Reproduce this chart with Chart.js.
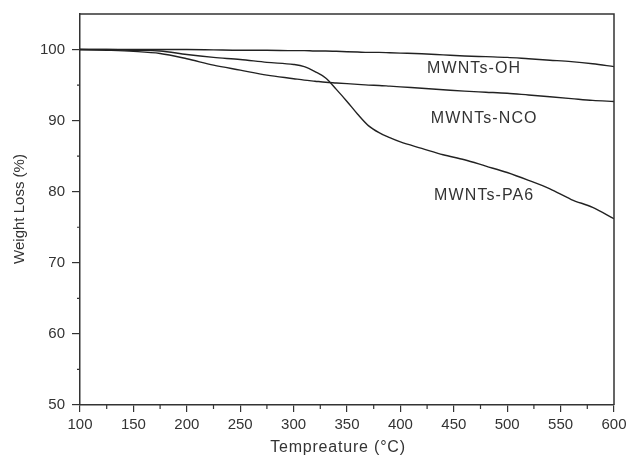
<!DOCTYPE html>
<html>
<head>
<meta charset="utf-8">
<script src="https://cdn.jsdelivr.net/npm/chart.js@4"></script>
<style>
  html, body { margin: 0; padding: 0; background: #fff; }
  #box { width: 627px; height: 459px; }
</style>
</head>
<body>
<div id="box"><canvas id="grafico" width="627" height="459"></canvas></div>
<script>
// temperaturas (°C)
const temps = [100, 125, 150, 175, 200, 225, 250, 275, 300, 310, 320, 330, 340, 350, 360, 370, 380, 390, 400, 420, 440, 460, 480, 500, 520, 540, 560, 580, 600];
// perda de massa (%)
const ohVals  = [100, 100, 100, 100, 100, 99.95, 99.9, 99.9, 99.85, 99.85, 99.8, 99.8, 99.75, 99.7, 99.65, 99.6, 99.6, 99.55, 99.5, 99.4, 99.25, 99.1, 99.0, 98.9, 98.7, 98.5, 98.3, 98.0, 97.6];
const ncoVals = [100, 99.9, 99.75, 99.45, 98.7, 97.8, 97.1, 96.4, 95.9, 95.7, 95.55, 95.4, 95.3, 95.2, 95.1, 95.0, 94.95, 94.85, 94.75, 94.55, 94.35, 94.15, 94.0, 93.85, 93.6, 93.35, 93.1, 92.85, 92.7];
const pa6Vals = [100, 100, 99.9, 99.8, 99.3, 98.9, 98.6, 98.2, 97.9, 97.6, 96.9, 96.0, 94.4, 92.7, 90.9, 89.3, 88.3, 87.6, 87.0, 86.1, 85.2, 84.5, 83.6, 82.7, 81.6, 80.4, 78.9, 77.8, 76.2];

const seriesNames = ['MWNTs-OH', 'MWNTs-NCO', 'MWNTs-PA6'];
// posição dos rótulos (em unidades dos dados)
const labelX = [469, 478.5, 478.5];
const labelY = [97.3, 90.3, 79.5];

const xTicks = [100, 150, 200, 250, 300, 350, 400, 450, 500, 550, 600];
const xMinor = [125, 175, 225, 275, 325, 375, 425, 475, 525, 575];
const yTicks = [50, 60, 70, 80, 90, 100];
const yMinor = [55, 65, 75, 85, 95];

const tituloX = 'Tempreature (°C)';
const tituloY = 'Weight Loss (%)';

const fonte = "'Liberation Sans', Arial, sans-serif";
const cor = '#333';

function pontos(vals) {
    return temps.map((t, i) => ({ x: t, y: vals[i] }));
}

function serie(nome, vals) {
    return {
        label: nome,
        data: pontos(vals),
        borderColor: '#222',
        borderWidth: 1.4,
        pointRadius: 0,
        fill: false,
        cubicInterpolationMode: 'monotone'
    };
}

// moldura, ticks menores, títulos dos eixos e rótulos das curvas
const extras = {
    id: 'extras',
    afterDraw(chart) {
        const ctx = chart.ctx;
        const a = chart.chartArea;
        const xs = chart.scales.x, ys = chart.scales.y;
        ctx.save();
        ctx.strokeStyle = cor;
        ctx.lineWidth = 1.5;
        ctx.beginPath();
        ctx.moveTo(a.left, a.top);
        ctx.lineTo(a.right, a.top);
        ctx.lineTo(a.right, a.bottom);
        ctx.stroke();

        ctx.lineWidth = 1.2;
        ctx.beginPath();
        xMinor.forEach(v => {
            const px = xs.getPixelForValue(v);
            ctx.moveTo(px, a.bottom);
            ctx.lineTo(px, a.bottom + 4);
        });
        yMinor.forEach(v => {
            const py = ys.getPixelForValue(v);
            ctx.moveTo(a.left, py);
            ctx.lineTo(a.left - 3, py);
        });
        ctx.stroke();

        ctx.fillStyle = cor;
        ctx.textAlign = 'center';
        ctx.textBaseline = 'middle';

        // rótulos das curvas
        ctx.font = '16px ' + fonte;
        ctx.letterSpacing = '1.1px';
        seriesNames.forEach((n, i) => {
            ctx.fillText(n, xs.getPixelForValue(labelX[i]), ys.getPixelForValue(labelY[i]));
        });

        // título do eixo x
        ctx.letterSpacing = '0.8px';
        ctx.fillText(tituloX, a.left + (a.right - a.left) / 2 - 9, 448);

        // título do eixo y
        ctx.letterSpacing = '0px';
        ctx.font = '15px ' + fonte;
        ctx.translate(20, 209);
        ctx.rotate(-Math.PI / 2);
        ctx.fillText(tituloY, 0, 0);
        ctx.restore();
    }
};

const ctx = document.getElementById('grafico').getContext('2d');

const grafico = new Chart(ctx, {
    type: 'line',
    data: {
        datasets: [
            serie(seriesNames[0], ohVals),
            serie(seriesNames[1], ncoVals),
            serie(seriesNames[2], pa6Vals)
        ]
    },
    options: {
        responsive: false,
        animation: false,
        layout: { padding: { top: 14, right: 13, left: 0, bottom: 0 } },
        plugins: {
            legend: { display: false },
            tooltip: { enabled: false }
        },
        scales: {
            x: {
                type: 'linear',
                min: 100,
                max: 600,
                afterBuildTicks: s => { s.ticks = xTicks.map(v => ({ value: v })); },
                afterFit: s => { s.height = 54; s.paddingLeft = 0; s.paddingRight = 0; },
                grid: { drawOnChartArea: false, tickLength: 7, color: cor, lineWidth: 1.2 },
                border: { color: cor, width: 1.5 },
                ticks: { color: cor, font: { family: fonte, size: 15 }, padding: 4, maxRotation: 0 }
            },
            y: {
                min: 50,
                max: 105,
                afterBuildTicks: s => { s.ticks = yTicks.map(v => ({ value: v })); },
                afterFit: s => { s.width = 80; s.paddingTop = 0; s.paddingBottom = 0; },
                grid: { drawOnChartArea: false, tickLength: 8, color: cor, lineWidth: 1.2 },
                border: { color: cor, width: 1.5 },
                ticks: { color: cor, font: { family: fonte, size: 15 }, padding: 7 }
            }
        }
    },
    plugins: [extras]
});
</script>
</body>
</html>
